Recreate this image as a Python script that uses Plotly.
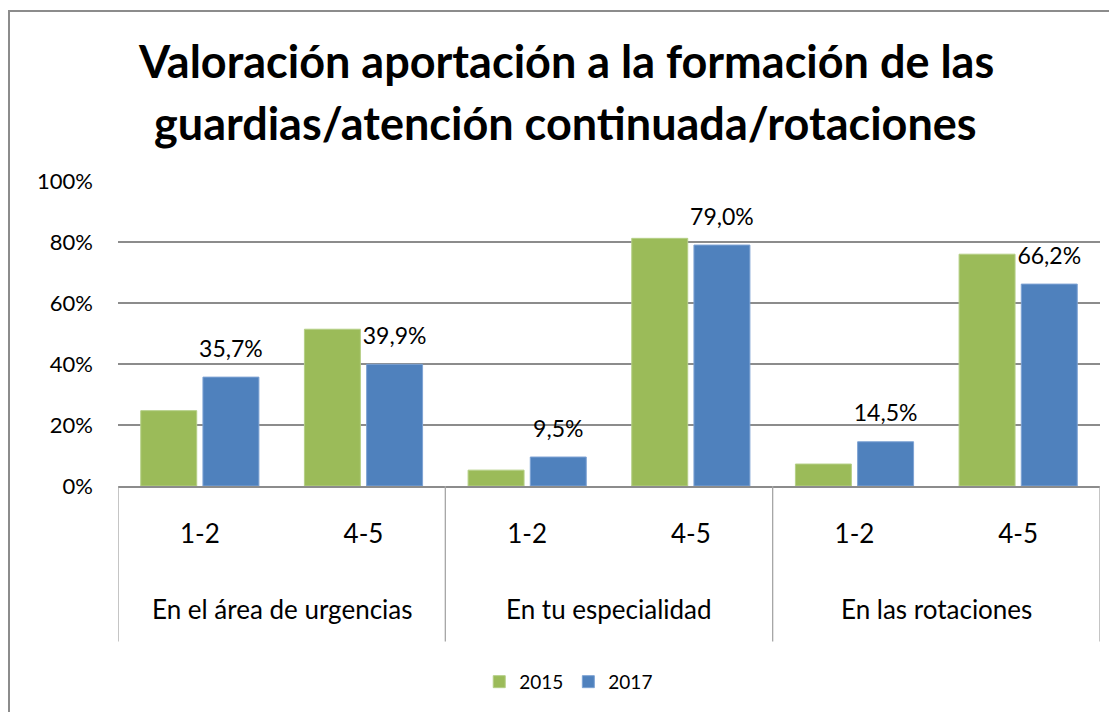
import plotly.graph_objects as go

# Datos
grupos = ['En el área de urgencias', 'En tu especialidad', 'En las rotaciones']
subcats = ['1-2', '4-5', '1-2', '4-5', '1-2', '4-5']
valores_2015 = [0.247, 0.514, 0.052, 0.812, 0.072, 0.760]
valores_2017 = [0.357, 0.399, 0.095, 0.790, 0.145, 0.662]

verde = '#9BBB59'
azul = '#4F81BD'
fuente = 'Lato'

x_pos = list(range(len(subcats)))
bargap = 0.24
# desplazamiento del centro de la barra 2017 dentro de cada categoria
desp = (1 - bargap) / 4

fig = go.Figure()

fig.add_trace(go.Bar(
    x=x_pos, y=valores_2015, name='2015',
    marker=dict(color=verde, line=dict(color='#b5cf86', width=1)),
))

fig.add_trace(go.Bar(
    x=x_pos, y=valores_2017, name='2017',
    marker=dict(color=azul, line=dict(color='#7ea3d4', width=1)),
))

# etiquetas de datos de 2017, algo separadas de la barra
fig.add_trace(go.Scatter(
    x=[p + desp for p in x_pos], y=valores_2017, mode='markers+text',
    marker=dict(size=22, opacity=0), texttemplate='%{y:.1%}',
    textposition='top center', textfont=dict(size=23, color='black', family=fuente),
    showlegend=False, hoverinfo='skip', cliponaxis=False,
))

# etiquetas de grupo y separadores bajo el eje
for i, g in enumerate(grupos):
    fig.add_annotation(x=2 * i + 0.5, y=-0.404, xref='x', yref='paper',
                       text=g, showarrow=False, yanchor='middle',
                       font=dict(size=26, color='black', family=fuente))

for b in [-0.5, 1.5, 3.5, 5.5]:
    fig.add_shape(type='line', xref='x', yref='paper', x0=b, x1=b, y0=0, y1=-0.51,
                  line=dict(color='#a6a6a6', width=1.3))

# marco del grafico
fig.add_shape(type='rect', xref='paper', yref='paper',
              x0=-0.111, x1=1.1, y0=-1.0, y1=1.557,
              line=dict(color='#8c8c8c', width=2), fillcolor='rgba(0,0,0,0)')

# titulo en dos lineas
fig.add_annotation(text='Valoración aportación a la formación de las',
                   xref='paper', yref='paper', x=0.456, y=1.393,
                   xanchor='center', yanchor='middle', showarrow=False,
                   font=dict(size=45, color='black', family=fuente, weight='bold'))
fig.add_annotation(text='guardias/atención continuada/rotaciones',
                   xref='paper', yref='paper', x=0.456, y=1.19,
                   xanchor='center', yanchor='middle', showarrow=False,
                   font=dict(size=45, color='black', family=fuente, weight='bold'))

# la pagina deja 8 px de margen en el body
fig.update_layout(
    width=1109, height=704,
    margin=dict(l=110, r=17, t=173, b=224),
    paper_bgcolor='white', plot_bgcolor='white',
    separators=',.',
    barmode='group', bargap=bargap, bargroupgap=0.1,
    showlegend=True,
    legend=dict(orientation='h', xref='paper', yref='paper',
                x=0.459, y=-0.642, xanchor='center', yanchor='middle',
                font=dict(size=19, color='black', family=fuente),
                itemwidth=30, tracegroupgap=0),
    font=dict(family=fuente, color='black'),
)

fig.update_xaxes(
    range=[-0.5, 5.5], tickmode='array', tickvals=x_pos, ticktext=subcats,
    tickfont=dict(size=26, color='black', family=fuente),
    ticks='', ticklabelstandoff=24,
    showline=True, linecolor='#8c8c8c', linewidth=1.5,
    showgrid=False, zeroline=False,
)

fig.update_yaxes(
    range=[0, 1.0], tickmode='array', tickvals=[0, 0.2, 0.4, 0.6, 0.8, 1.0],
    tickformat='.0%', tickfont=dict(size=22, color='black', family=fuente),
    ticks='', ticklabelstandoff=24,
    showgrid=True, gridcolor='#8c8c8c', gridwidth=1.5,
    zeroline=False, showline=False,
)

fig.write_html('out.html')
